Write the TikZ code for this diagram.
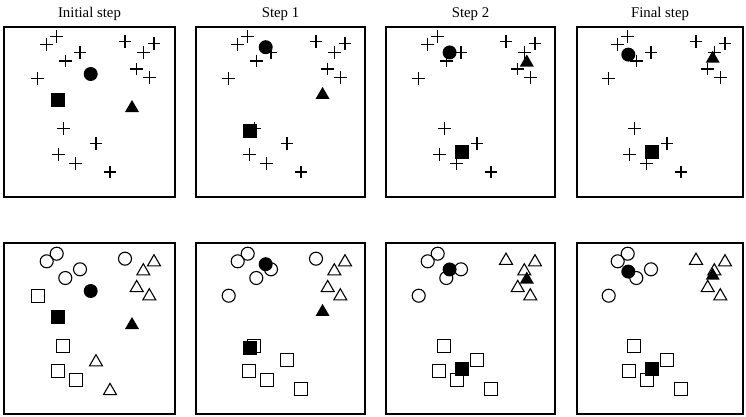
\documentclass[tikz,border=0pt]{standalone}
\usepackage{fontspec}
\setmainfont{Liberation Serif}
\tikzset{
  panelbox/.style={line width=1.6pt},
  mk/.style={line width=1.4pt},
  omk/.style={line width=1.1pt},
  steplabel/.style={anchor=base,font=\fontsize{14.8}{16}\selectfont,inner sep=0pt}
}
\newcommand\mkcross[2]{\draw[mk,shift={(#1,#2)}] (-6.3,0) -- (6.3,0) (0,-6.3) -- (0,6.3);}
\newcommand\mkcirc[2]{\draw[omk] (#1,#2) circle[radius=6.5pt];}
\newcommand\mksq[2]{\draw[omk,shift={(#1,#2)}] (-6.5,-6.5) rectangle (6.5,6.5);}
\newcommand\mktri[2]{\draw[omk,shift={(#1,#2)}] (-6.5,5.6) -- (6.5,5.6) -- (0,-5.6) -- cycle;}
\newcommand\fcirc[2]{\fill (#1,#2) circle[radius=7pt];}
\newcommand\fsq[2]{\fill[shift={(#1,#2)}] (-7,-7) rectangle (7,7);}
\newcommand\ftri[2]{\fill[shift={(#1,#2)}] (-7,6) -- (7,6) -- (0,-6) -- cycle;}
\def\allpts{46.7/44.3,56.7/36.7,65.3/61,80/52.3,37.7/78.7,125/41.7,154/43.3,143.3/52.3,136.7/69,149.3/77.3,63.3/128.7,96/143.3,58.3/154.3,75.7/163.3,110/172}
\begin{document}
\begin{tikzpicture}[x=1pt,y=-1pt]
\useasboundingbox (0,0) rectangle (746,416);
% panel frames
\foreach \l/\r in {4/175,196/365,386/555,577/743}{
  \draw[panelbox] (\l,27) rectangle (\r,197);
  \draw[panelbox] (\l,243) rectangle (\r,414);
}
% labels
\node[steplabel] (lab0) at (89.5,17) {Initial step};
\node[steplabel] (lab1) at (280.5,17) {Step 1};
\node[steplabel] (lab2) at (470.5,17) {Step 2};
\node[steplabel] (lab3) at (660,17) {Final step};
% top row: data points as crosses
\foreach \o in {0,191,381,571}{
  \foreach \x/\y in \allpts { \mkcross{\x+\o}{\y} }
}
% bottom row: assignments
% initial step
\foreach \x/\y in {46.7/44.3,56.7/36.7,65.3/61,80/52.3,125/41.7}{\mkcirc{\x}{\y+217}}
\foreach \x/\y in {37.7/78.7,63.3/128.7,58.3/154.3,75.7/163.3}{\mksq{\x}{\y+217}}
\foreach \x/\y in {154/43.3,143.3/52.3,136.7/69,149.3/77.3,96/143.3,110/172}{\mktri{\x}{\y+217}}
% step 1
\foreach \x/\y in {46.7/44.3,56.7/36.7,65.3/61,80/52.3,37.7/78.7,125/41.7}{\mkcirc{\x+191}{\y+217}}
\foreach \x/\y in {154/43.3,143.3/52.3,136.7/69,149.3/77.3}{\mktri{\x+191}{\y+217}}
\foreach \x/\y in {63.3/128.7,96/143.3,58.3/154.3,75.7/163.3,110/172}{\mksq{\x+191}{\y+217}}
% step 2 and final step
\foreach \o in {381,571}{
  \foreach \x/\y in {46.7/44.3,56.7/36.7,65.3/61,80/52.3,37.7/78.7}{\mkcirc{\x+\o}{\y+217}}
  \foreach \x/\y in {125/41.7,154/43.3,143.3/52.3,136.7/69,149.3/77.3}{\mktri{\x+\o}{\y+217}}
  \foreach \x/\y in {63.3/128.7,96/143.3,58.3/154.3,75.7/163.3,110/172}{\mksq{\x+\o}{\y+217}}
}
% centroids (both rows)
\foreach \o/\cx/\cy/\sx/\sy/\tx/\ty in {0/90.7/74/58.3/100/132/106,191/74.7/47.2/58.75/131.25/131.55/92.9,381/68.6/52.45/80.66/152.3/145.8/60.5,571/57.3/54.6/80.66/152.3/141.7/56.7}{
  \fcirc{\cx+\o}{\cy}
  \fsq{\sx+\o}{\sy}
  \ftri{\tx+\o}{\ty}
  \fcirc{\cx+\o}{\cy+217}
  \fsq{\sx+\o}{\sy+217}
  \ftri{\tx+\o}{\ty+217}
}
\end{tikzpicture}
\end{document}
